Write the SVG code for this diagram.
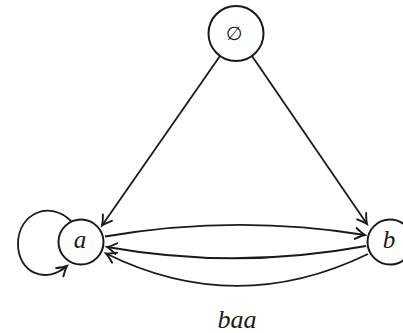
<svg xmlns="http://www.w3.org/2000/svg" width="403" height="333" viewBox="0 0 403 333">
<style>
.node { fill: #ffffff; stroke: #1a1a1a; stroke-width: 2; }
.edge { fill: none; stroke: #1a1a1a; stroke-width: 1.8; }
.lbl { font-family: "Liberation Serif", "DejaVu Serif", serif; font-style: italic; fill: #1a1a1a; text-anchor: middle; }
.sym { font-family: "DejaVu Sans", sans-serif; fill: #1a1a1a; text-anchor: middle; }
</style>
<defs>
<marker id="arr" markerUnits="userSpaceOnUse" markerWidth="24" markerHeight="24" viewBox="-12 -12 24 24" refX="0" refY="0" orient="auto" overflow="visible">
<path d="M -9.5 -5.5 Q -3.5 -1.3 0 0 Q -3.5 1.3 -9.5 5.5" fill="none" stroke="#1a1a1a" stroke-width="1.9" stroke-linecap="round"/>
</marker>
</defs>
<rect width="403" height="333" fill="#ffffff"/>
<g id="connectors">
<path class="edge" d="M 220 56 L 102 225.5" marker-end="url(#arr)"/>
<path class="edge" d="M 252 56 L 367 224" marker-end="url(#arr)"/>
<path class="edge" d="M 105 236.5 Q 236 214 365 235" marker-end="url(#arr)"/>
<path class="edge" d="M 366 246 Q 236 270 107 247" marker-end="url(#arr)"/>
<path class="edge" d="M 368 254 Q 236 318 106 253.5" marker-end="url(#arr)"/>
<path class="edge" d="M 71 221 C 50 200, 18 213, 18 244 C 18 272, 45 285, 67 266" marker-end="url(#arr)"/>
<text class="lbl" x="237" y="328" font-size="26">baa</text>
</g>
<g id="node-empty">
<circle class="node" cx="236" cy="33.5" r="27.5"/>
<text class="sym" x="234" y="40" font-size="19">∅</text>
</g>
<g id="node-a">
<circle class="node" cx="81" cy="242" r="22.5"/>
<text class="lbl" x="80" y="248" font-size="25">a</text>
</g>
<g id="node-b">
<circle class="node" cx="390" cy="242" r="22.5"/>
<text class="lbl" x="389" y="248" font-size="25">b</text>
</g>
</svg>
